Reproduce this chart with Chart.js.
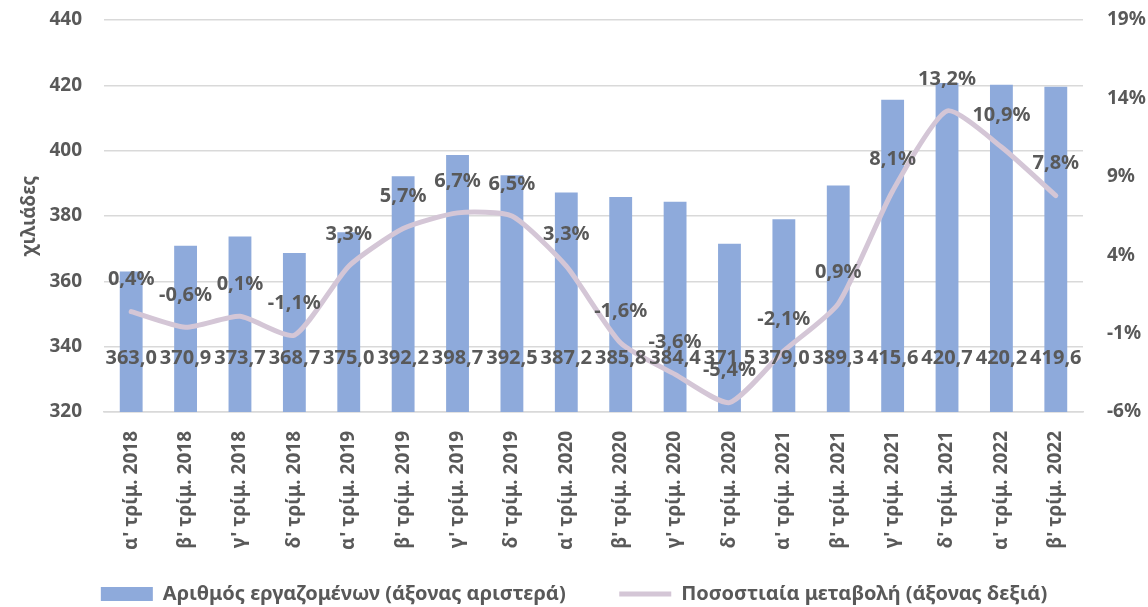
<!DOCTYPE html>
<html>
<head>
<meta charset="utf-8">
<script src="https://cdn.jsdelivr.net/npm/chart.js@4/dist/chart.umd.min.js"></script>
<style>
  html, body { margin: 0; padding: 0; background: #fff; }
  #wrap { width: 1148px; height: 607px; position: relative; }
</style>
</head>
<body>
<div id="wrap"><canvas id="chart1"></canvas></div>
<script>
// δεδομένα
var quarters = ["α' τρίμ. 2018", "β' τρίμ. 2018", "γ' τρίμ. 2018", "δ' τρίμ. 2018",
                "α' τρίμ. 2019", "β' τρίμ. 2019", "γ' τρίμ. 2019", "δ' τρίμ. 2019",
                "α' τρίμ. 2020", "β' τρίμ. 2020", "γ' τρίμ. 2020", "δ' τρίμ. 2020",
                "α' τρίμ. 2021", "β' τρίμ. 2021", "γ' τρίμ. 2021", "δ' τρίμ. 2021",
                "α' τρίμ. 2022", "β' τρίμ. 2022"];
var employees = [363.0, 370.9, 373.7, 368.7, 375.0, 392.2, 398.7, 392.5, 387.2,
                 385.8, 384.4, 371.5, 379.0, 389.3, 415.6, 420.7, 420.2, 419.6];
var changePct = [0.4, -0.6, 0.1, -1.1, 3.3, 5.7, 6.7, 6.5, 3.3,
                 -1.6, -3.6, -5.4, -2.1, 0.9, 8.1, 13.2, 10.9, 7.8];
var leftTicks = [320, 340, 360, 380, 400, 420, 440];
var rightTicks = [-6, -1, 4, 9, 14, 19];

var textColor = '#595959';
var fontFam = '"Noto Sans", "Open Sans", sans-serif';

function fmt(v, d) {
    return v.toFixed(d).replace('.', ',');
}

// μηδενισμός padding αξόνων ώστε η περιοχή σχεδίασης να ξεκινά στο σωστό ύψος
function noPad(axis) {
    axis.paddingTop = 0;
    axis.paddingBottom = 0;
    axis.paddingLeft = 0;
    axis.paddingRight = 0;
}

// ετικέτες τιμών
var labelPlugin = {
    id: 'valueLabels',
    afterDatasetsDraw: function (chart) {
        var ctx = chart.ctx;
        ctx.save();
        ctx.fillStyle = textColor;
        ctx.font = 'bold 20px ' + fontFam;
        ctx.textAlign = 'center';
        ctx.textBaseline = 'middle';
        var bars = chart.getDatasetMeta(0).data;
        bars.forEach(function (b, i) {
            ctx.fillText(fmt(employees[i], 1), b.x, chart.chartArea.bottom - 54);
        });
        var pts = chart.getDatasetMeta(1).data;
        pts.forEach(function (p, i) {
            ctx.fillText(fmt(changePct[i], 1) + '%', p.x, p.y - 32);
        });
        ctx.restore();
    }
};

var config1 = {
    type: 'bar',
    data: {
        labels: quarters,
        datasets: [{
            type: 'bar',
            label: 'Αριθμός εργαζομένων (άξονας αριστερά)',
            data: employees,
            backgroundColor: '#8eaadb',
            yAxisID: 'y',
            categoryPercentage: 1,
            barPercentage: 0.42,
            order: 2
        }, {
            type: 'line',
            label: 'Ποσοστιαία μεταβολή (άξονας δεξιά)',
            data: changePct,
            borderColor: '#d4c6d6',
            backgroundColor: '#d4c6d6',
            borderWidth: 5,
            pointRadius: 0,
            tension: 0.2,
            borderJoinStyle: 'round',
            borderCapStyle: 'round',
            yAxisID: 'y1',
            order: 1
        }]
    },
    options: {
        responsive: true,
        maintainAspectRatio: false,
        animation: false,
        layout: { padding: { top: 20, left: 0, right: 0, bottom: -7 } },
        scales: {
            x: {
                grid: { display: false },
                border: { color: '#d9d9d9', width: 1.5 },
                ticks: {
                    color: textColor,
                    font: { family: fontFam, size: 19, weight: 'bold' },
                    minRotation: 90,
                    maxRotation: 90,
                    padding: 11
                },
                afterFit: function (axis) { axis.height = 160; noPad(axis); }
            },
            y: {
                position: 'left',
                min: 320,
                max: 440,
                afterBuildTicks: function (axis) {
                    axis.ticks = leftTicks.map(function (v) { return { value: v }; });
                },
                grid: { color: '#d9d9d9', lineWidth: 1.5, drawTicks: false },
                border: { display: false },
                ticks: {
                    color: textColor,
                    font: { family: fontFam, size: 19, weight: 'bold' },
                    padding: 22
                },
                title: {
                    display: true,
                    text: 'χιλιάδες',
                    color: textColor,
                    font: { family: fontFam, size: 19, weight: 'bold' },
                    padding: { top: 18, bottom: 0 }
                },
                afterFit: function (axis) { axis.width = 104; noPad(axis); }
            },
            y1: {
                position: 'right',
                min: -6,
                max: 19,
                afterBuildTicks: function (axis) {
                    axis.ticks = rightTicks.map(function (v) { return { value: v }; });
                },
                grid: { display: false, drawTicks: false },
                border: { display: false },
                ticks: {
                    color: textColor,
                    font: { family: fontFam, size: 19, weight: 'bold' },
                    padding: 24,
                    callback: function (v) { return v + '%'; }
                },
                afterFit: function (axis) { axis.width = 65; noPad(axis); }
            }
        },
        plugins: {
            legend: {
                position: 'bottom',
                labels: {
                    color: textColor,
                    font: { family: fontFam, size: 20, weight: 'bold' },
                    usePointStyle: true,
                    pointStyleWidth: 52,
                    boxHeight: 14,
                    padding: 12,
                    generateLabels: function (chart) {
                        return chart.data.datasets.map(function (ds, i) {
                            return {
                                // κενά στο τέλος για μεγαλύτερη απόσταση μεταξύ των στοιχείων
                                text: i === 0 ? ds.label + '        ' : ds.label,
                                fillStyle: ds.backgroundColor,
                                strokeStyle: ds.borderColor,
                                lineWidth: i === 0 ? 0 : 5,
                                pointStyle: i === 0 ? 'rect' : 'line',
                                fontColor: textColor,
                                datasetIndex: i,
                                hidden: false
                            };
                        });
                    }
                }
            },
            tooltip: { enabled: false }
        }
    },
    plugins: [labelPlugin]
};

var chart1 = new Chart(document.getElementById('chart1'), config1);
</script>
</body>
</html>
